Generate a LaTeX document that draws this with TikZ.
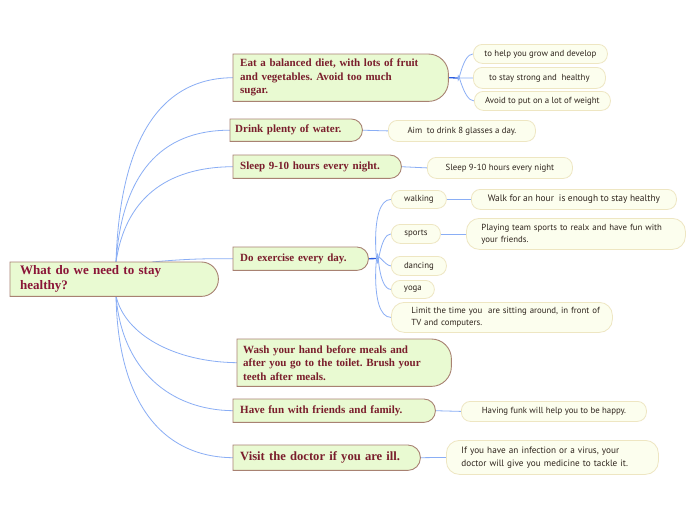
\documentclass[tikz,border=0pt]{standalone}
\usepackage{fontspec}
\setmainfont{Liberation Serif}
\newfontfamily\subfont{PT Sans}
\usetikzlibrary{backgrounds}
\frenchspacing
\definecolor{topicfill}{HTML}{E9FAD2}
\definecolor{topicdraw}{HTML}{A88272}
\definecolor{topictext}{HTML}{7A1E2C}
\definecolor{centertext}{HTML}{8A1538}
\definecolor{subfill}{HTML}{FCFEEE}
\definecolor{subdraw}{HTML}{EEE6C2}
\definecolor{subtext}{HTML}{2E241C}
\definecolor{connblue}{HTML}{8AAEF5}
\definecolor{stubblue}{HTML}{2A5CE0}
\newcommand\topicshape[2]{%
  \draw[topicline] (#1.south west) -- (#1.north west) -- ([xshift=-#2]#1.north east)
    arc[start angle=90,end angle=0,radius=#2] -- ([yshift=#2]#1.south east)
    arc[start angle=0,end angle=-90,radius=#2] -- cycle;}
\tikzset{
  topicline/.style={fill=topicfill, draw=topicdraw, line width=0.9pt},
  topic/.style={anchor=north west, inner xsep=7pt, inner ysep=0pt, align=left,
    font=\bfseries\fontsize{11}{13.5}\selectfont, text=topictext},
  subnode/.style={anchor=north west, draw=subdraw, fill=subfill, line width=0.8pt,
    rounded corners=9pt, inner sep=0pt, align=center,
    font=\subfont\fontsize{8.8}{12}\selectfont, text=subtext},
  subtwo/.style={subnode, rounded corners=13pt, align=left, inner xsep=15pt},
  conn/.style={draw=connblue, line width=0.8pt},
  stub/.style={draw=stubblue, line width=1.3pt}
}
\begin{document}
\begin{tikzpicture}[x=1pt,y=-1pt]
\useasboundingbox (0,0) rectangle (696,520);
% central
\node[topic, inner xsep=10pt, text width=188pt, minimum height=34pt, text=centertext,
  font=\bfseries\fontsize{13}{15}\selectfont] (center) at (10,262)
  {What do we need to stay\\healthy?};
% main topics
\node[topic, text width=201pt, minimum height=47pt] (eat) at (233,54)
  {Eat a balanced diet, with lots of fruit\\and vegetables. Avoid too much\\sugar.};
\node[topic, inner xsep=5pt, text width=122pt, minimum height=22pt] (drink) at (230,119)
  {Drink plenty of water.};
\node[topic, text width=154pt, minimum height=23pt] (sleep) at (233,155)
  {Sleep 9-10 hours every night.};
\node[topic, text width=121pt, minimum height=23pt] (exer) at (233,247)
  {Do exercise every day.};
\node[topic, inner xsep=6pt, text width=202pt, minimum height=47pt] (wash) at (237,339)
  {Wash your hand before meals and\\after you go to the toilet. Brush your\\teeth after meals.};
\node[topic, text width=188pt, minimum height=23pt] (fun) at (233,399)
  {Have fun with friends and family.};
\node[topic, text width=173pt, minimum height=25pt, font=\bfseries\fontsize{12.6}{14}\selectfont] (doctor) at (233,445)
  {Visit the doctor if you are ill.};
% sub topics
\node[subnode, minimum width=134pt, minimum height=19pt] (s1a) at (473,44) {to help you grow and develop};
\node[subnode, minimum width=132pt, minimum height=21pt] (s1b) at (473,67) {to stay strong and \ healthy};
\node[subnode, minimum width=136pt, minimum height=19pt] (s1c) at (474,91) {Avoid to put on a lot of weight};
\node[subnode, minimum width=147pt, minimum height=21pt] (s2) at (388,120) {Aim \ to drink 8 glasses a day.};
\node[subnode, minimum width=145pt, minimum height=21pt] (s3) at (427,157) {Sleep 9-10 hours every night};
\node[subnode, minimum width=55pt, minimum height=18pt] (walking) at (391,190) {walking};
\node[subnode, minimum width=205pt, minimum height=20pt, font=\subfont\fontsize{9.4}{12}\selectfont] (walkfor) at (471,189) {Walk for an hour \ is enough to stay healthy};
\node[subnode, minimum width=49pt, minimum height=19pt] (sports) at (391,224) {sports};
\node[subtwo, text width=189pt, minimum height=31pt] (playing) at (466,218) {Playing team sports to realx and have fun with\\your friends.};
\node[subnode, minimum width=55pt, minimum height=19pt] (dancing) at (391,256) {dancing};
\node[subnode, minimum width=43pt, minimum height=18pt] (yoga) at (391,280) {yoga};
\node[subtwo, inner xsep=12pt, text width=197pt, minimum height=30pt] (limit) at (391,302) {\hspace*{8pt}Limit the time you \ are sitting around, in front of\\\hspace*{8pt}TV and computers.};
\node[subnode, minimum width=185pt, minimum height=20pt] (having) at (461,401) {Having funk will help you to be happy.};
\node[subtwo, text width=182pt, minimum height=34pt, font=\subfont\fontsize{9.2}{13}\selectfont] (infect) at (446,440) {If you have an infection or a virus, your\\doctor will give you medicine to tackle it.};
% coordinates
\coordinate (ctop) at (116,262);
\coordinate (ctop2) at (152,262);
\coordinate (cbot) at (116,296);
\coordinate (eatb) at (458,78);
\coordinate (exb) at (378,258.5);
\begin{pgfonlayer}{background}
\fill[white] (0,0) rectangle (696,520);
\draw[conn] (ctop) .. controls (120,140) and (160,78) .. (eat.west);
\draw[conn] (ctop) .. controls (122,175) and (160,130) .. (drink.west);
\draw[conn] (ctop) .. controls (125,200) and (165,167) .. (sleep.west);
\draw[conn] (ctop2) .. controls (185,259) and (205,258.5) .. (exer.west);
\draw[conn] (cbot) .. controls (125,335) and (175,362) .. (wash.west);
\draw[conn] (cbot) .. controls (122,370) and (170,410) .. (fun.west);
\draw[conn] (cbot) .. controls (118,400) and (160,457) .. (doctor.west);
\draw[stub] (eat.east) -- (eatb);
\draw[conn] (eatb) to[out=-90,in=180] (s1a.west);
\draw[conn] (eatb) -- (s1b.west);
\draw[conn] (eatb) to[out=90,in=180] (s1c.west);
\draw[conn] (drink.east) -- (s2.west);
\draw[conn] (sleep.east) -- (s3.west);
\draw[stub] (exer.east) -- (exb);
\draw[conn] (exb) to[out=-90,in=180] (walking.west);
\draw[conn] (exb) to[out=-90,in=180] (sports.west);
\draw[conn] (exb) to[out=90,in=180] (dancing.west);
\draw[conn] (exb) to[out=90,in=180] (yoga.west);
\draw[conn] (exb) to[out=90,in=180] (limit.west);
\draw[conn] (walking.east) -- (walkfor.west);
\draw[conn] (sports.east) -- (playing.west);
\draw[conn] (fun.east) -- (having.west);
\draw[conn] (doctor.east) -- (infect.west);
\topicshape{center}{17pt}
\topicshape{eat}{20pt}
\topicshape{drink}{11pt}
\topicshape{sleep}{11.5pt}
\topicshape{exer}{11.5pt}
\topicshape{wash}{20pt}
\topicshape{fun}{11.5pt}
\topicshape{doctor}{12.5pt}
\end{pgfonlayer}
\end{tikzpicture}
\end{document}
